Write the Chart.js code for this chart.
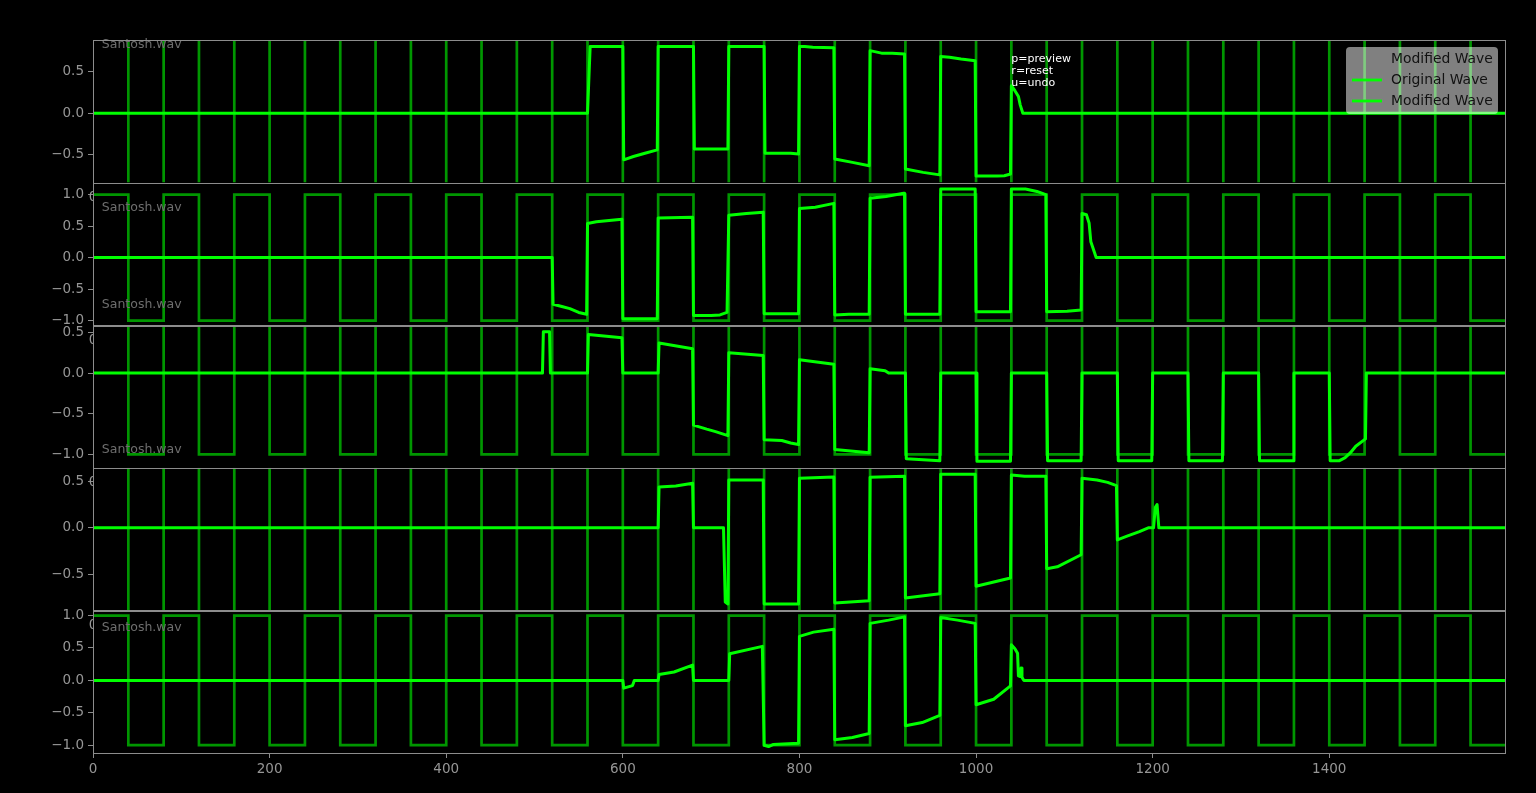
<!DOCTYPE html>
<html><head><meta charset="utf-8">
<script src="https://cdn.jsdelivr.net/npm/chart.js@4.4.1/dist/chart.umd.min.js"></script>
<style>html,body{margin:0;padding:0;background:#000;overflow:hidden}</style>
</head><body>
<canvas id="c" width="1536" height="793"></canvas>
<script>
// ---------- data ----------
const xMin = 0, xMax = 1599;
const xTickValues = [0, 200, 400, 600, 800, 1000, 1200, 1400];

// original square wave: level held from edge[i] to edge[i+1]
const squareEdges = [0,40,80,120,160,200,240,280,320,360,400,440,480,520,560,600,640,680,720,760,
  800,840,880,920,960,1000,1040,1080,1120,1160,1200,1240,1280,1320,1360,1400,1440,1480,1520,1560,1599];
const squareLevels = [1,-1,1,-1,1,-1,1,-1,1,-1,1,-1,1,-1,1,-1,1,-1,1,-1,
  1,-1,1,-1,1,-1,1,-1,1,-1,1,-1,1,-1,1,-1,1,-1,1,-1];

// modified waves, one per panel
const p1X = [0,560,563,600,601,612,625,639,640,680,681,719,720,760,761,790,799,800,806,815,839,840,860,879,880,893,905,919,920,940,959,960,970,983,999,1000,1024,1032,1039,1040,1044,1048,1050,1053,1599];
const p1Y = [0,0,0.80,0.80,-0.56,-0.52,-0.48,-0.44,0.80,0.80,-0.43,-0.43,0.80,0.80,-0.48,-0.48,-0.49,0.80,0.80,0.79,0.785,-0.55,-0.59,-0.63,0.75,0.72,0.72,0.71,-0.67,-0.71,-0.74,0.68,0.67,0.65,0.63,-0.755,-0.755,-0.75,-0.73,0.33,0.27,0.20,0.10,0,0];

const p2X = [0,520,521,532,540,550,559,560,570,599,600,639,640,679,680,700,710,718,720,740,759,760,799,800,818,839,840,856,879,880,898,918,919,920,959,960,999,1000,1039,1040,1056,1069,1079,1080,1103,1119,1120,1125,1128,1130,1136,1599];
const p2Y = [0,0,-0.74,-0.78,-0.81,-0.87,-0.90,0.54,0.57,0.61,-0.97,-0.97,0.63,0.64,-0.92,-0.92,-0.91,-0.87,0.67,0.70,0.72,-0.89,-0.89,0.78,0.80,0.86,-0.91,-0.90,-0.90,0.94,0.97,1.02,1.02,-0.90,-0.90,1.087,1.087,-0.86,-0.86,1.087,1.087,1.05,1.0,-0.86,-0.85,-0.83,0.70,0.68,0.55,0.25,0,0];

const p3X = [0,509,510,517,518,560,561,599,600,640,641,679,680,695,705,719,720,759,760,780,790,799,800,839,840,879,880,897,901,920,921,959,960,1000,1001,1039,1040,1080,1081,1119,1120,1160,1161,1199,1200,1240,1241,1279,1280,1320,1321,1359,1360,1400,1401,1411,1418,1424,1430,1441,1442,1599];
const p3Y = [0,0,0.51,0.51,0,0,0.475,0.435,0,0,0.37,0.30,-0.64,-0.69,-0.72,-0.77,0.25,0.218,-0.82,-0.83,-0.86,-0.88,0.164,0.11,-0.94,-0.98,0.053,0.03,0,0,-1.054,-1.08,0,0,-1.086,-1.086,0,0,-1.08,-1.08,0,0,-1.08,-1.08,0,0,-1.08,-1.08,0,0,-1.08,-1.08,0,0,-1.08,-1.08,-1.04,-0.98,-0.90,-0.81,0,0];

const p4X = [0,640,641,660,679,680,714,716,719,720,759,760,799,800,839,840,879,880,919,920,959,960,999,1000,1039,1040,1055,1079,1080,1092,1119,1120,1137,1149,1159,1160,1171,1185,1195,1201,1203,1205,1207,1599];
const p4Y = [0,0,0.44,0.45,0.48,0,0,-0.80,-0.82,0.516,0.516,-0.82,-0.82,0.534,0.548,-0.81,-0.785,0.545,0.555,-0.756,-0.71,0.577,0.577,-0.63,-0.54,0.57,0.555,0.555,-0.44,-0.42,-0.29,0.534,0.516,0.49,0.455,-0.13,-0.09,-0.04,0,0,0.22,0.25,0,0];

const p5X = [0,600,601,606,611,613,640,641,658,679,680,720,721,758,760,765,770,799,800,816,839,840,860,879,880,901,919,920,939,959,960,979,999,1000,1020,1039,1040,1044,1047,1048,1050,1051,1052,1054,1599];
const p5Y = [0,0,-0.12,-0.10,-0.08,0,0,0.09,0.13,0.235,0,0,0.41,0.525,-1.0,-1.02,-0.99,-0.97,0.68,0.745,0.79,-0.915,-0.88,-0.82,0.88,0.93,0.98,-0.70,-0.65,-0.54,0.97,0.93,0.88,-0.375,-0.29,-0.085,0.55,0.49,0.42,0.07,0.06,0.19,0.05,0,0];

const panelX = [p1X, p2X, p3X, p4X, p5X];
const panelY = [p1Y, p2Y, p3Y, p4Y, p5Y];
const yTickValues = [
  [-0.5, 0, 0.5],
  [-1, -0.5, 0, 0.5, 1],
  [-1, -0.5, 0, 0.5],
  [-0.5, 0, 0.5],
  [-1, -0.5, 0, 0.5, 1]
];

const legendLabels = ['Modified Wave', 'Original Wave', 'Modified Wave'];
const legendHasLine = [false, true, true];
const helpLines = ['p=preview', 'r=reset', 'u=undo'];
const fileLabel = 'Santosh.wav';
// annotation anchors (panel index, data x, data y)
const fileLabelSpots = [[0, 10, 0.826], [1, 10, 0.795], [1, 10, -0.756], [2, 10, -0.945], [4, 10, 0.817]];
const helpSpot = [0, 1040, 0.72];

// ---------- styles ----------
const LIME = '#00ff00', DARK = '#009600', GREY = '#969696', SPINE = '#8c8c8c';
const FONT = '"DejaVu Sans", sans-serif';

const fmt = v => {
  const s = Math.abs(v) < 1e-9 ? '0.0' : v.toFixed(1);
  return s.replace('-', '\u2212');
};

const squarePoints = [];
for (let i = 0; i < squareLevels.length; i++) {
  squarePoints.push({x: squareEdges[i], y: squareLevels[i]});
  squarePoints.push({x: squareEdges[i + 1], y: squareLevels[i]});
}

const datasets = [];
const scales = {
  x: {
    type: 'linear', position: 'bottom', min: xMin, max: xMax,
    afterBuildTicks: s => { s.ticks = xTickValues.map(v => ({value: v})); },
    ticks: {color: GREY, font: {family: FONT, size: 13.5}, padding: 3, autoSkip: false, maxRotation: 0,
      callback: v => String(v)},
    grid: {drawOnChartArea: false, drawTicks: true, tickLength: 5, color: SPINE, lineWidth: 1},
    border: {display: false},
    afterFit: s => { s.height = 40; }
  }
};
const nP = panelX.length;
for (let p = 0; p < nP; p++) {
  const id = 'y' + p;
  const ys = panelY[p];
  const lo = Math.min(...ys), hi = Math.max(...ys), m = (hi - lo) * 0.05;
  scales[id] = {
    type: 'linear', position: 'left', stack: 'panels', stackWeight: 1, weight: nP - p,
    min: lo - m, max: hi + m,
    afterBuildTicks: (s => { s.ticks = yTickValues[p].map(v => ({value: v})); }),
    ticks: {color: GREY, font: {family: FONT, size: 13.5}, padding: 4, autoSkip: false, callback: v => fmt(v)},
    grid: {drawOnChartArea: false, drawTicks: true, tickLength: 5, color: SPINE, lineWidth: 1},
    border: {display: false},
    afterFit: s => { s.width = 93; }
  };
  datasets.push({
    label: 'Modified Wave', yAxisID: id, xAxisID: 'x', order: 0,
    data: panelX[p].map((x, i) => ({x, y: panelY[p][i]})),
    borderColor: LIME, borderWidth: 3, pointRadius: 0, tension: 0,
    borderJoinStyle: 'round', fill: false
  });
  datasets.push({
    label: 'Original Wave', yAxisID: id, xAxisID: 'x', order: 1,
    data: squarePoints,
    borderColor: DARK, borderWidth: 2.7, pointRadius: 0, tension: 0, fill: false
  });
}

const deco = {
  id: 'deco',
  beforeDraw(chart) {
    const c = chart.ctx; c.save(); c.fillStyle = '#000'; c.fillRect(0, 0, chart.width, chart.height); c.restore();
  },
  beforeDatasetDraw(chart, args) {
    const ds = chart.data.datasets[args.index];
    const s = chart.scales[ds.yAxisID], a = chart.chartArea, c = chart.ctx;
    c.save(); c.beginPath(); c.rect(a.left, s.top, a.right - a.left, s.bottom - s.top); c.clip();
  },
  afterDatasetDraw(chart) { chart.ctx.restore(); },
  afterDraw(chart) {
    const c = chart.ctx, a = chart.chartArea, xs = chart.scales.x;
    c.save();
    // partial hidden "0" x-labels of upper panels
    c.save(); c.beginPath(); c.rect(0, 0, a.left, chart.height); c.clip();
    c.fillStyle = GREY; c.font = '13.5px ' + FONT; c.textAlign = 'center'; c.textBaseline = 'middle';
    for (let p = 0; p < nP - 1; p++) {
      const s = chart.scales['y' + p];
      c.fillText(String(xTickValues[0]), xs.getPixelForValue(xTickValues[0]), s.bottom + 15);
    }
    c.restore();
    // file labels
    c.fillStyle = '#6e6e6e'; c.font = '12.5px ' + FONT; c.textAlign = 'left'; c.textBaseline = 'middle';
    fileLabelSpots.forEach(([p, x, y]) => {
      c.fillText(fileLabel, xs.getPixelForValue(x), chart.scales['y' + p].getPixelForValue(y));
    });
    // spines
    c.strokeStyle = SPINE; c.lineWidth = 1;
    for (let p = 0; p < nP; p++) {
      const s = chart.scales['y' + p];
      c.strokeRect(Math.round(a.left) + 0.5, Math.round(s.top) + 0.5, Math.round(a.right - a.left), Math.round(s.bottom - s.top));
    }
    // help text
    c.fillStyle = '#ffffff'; c.font = '11px ' + FONT; c.textBaseline = 'top'; c.textAlign = 'left';
    const hx = xs.getPixelForValue(helpSpot[1]), hy = chart.scales['y' + helpSpot[0]].getPixelForValue(helpSpot[2]);
    helpLines.forEach((t, i) => c.fillText(t, hx, hy + i * 12));
    // legend
    const s0 = chart.scales['y0'];
    const bw = 152, bh = 67, bx = a.right - 7 - bw, by = s0.top + 7;
    c.fillStyle = 'rgba(255,255,255,0.5)';
    c.beginPath();
    if (c.roundRect) c.roundRect(bx, by, bw, bh, 4); else c.rect(bx, by, bw, bh);
    c.fill();
    c.font = '13.9px ' + FONT; c.textBaseline = 'middle';
    legendLabels.forEach((t, i) => {
      const ry = by + 12 + i * 21;
      if (legendHasLine[i]) {
        c.strokeStyle = LIME; c.lineWidth = 2.8;
        c.beginPath(); c.moveTo(bx + 6, ry); c.lineTo(bx + 36, ry); c.stroke();
      }
      c.fillStyle = '#111111';
      c.fillText(t, bx + 45, ry);
    });
    c.restore();
  }
};

new Chart(document.getElementById('c'), {
  type: 'line',
  data: {datasets},
  options: {
    responsive: false, animation: false, devicePixelRatio: 1,
    parsing: true, normalized: true,
    layout: {padding: {top: 40, right: 31, bottom: 0, left: 0}},
    plugins: {legend: {display: false}, tooltip: {enabled: false}},
    scales
  },
  plugins: [deco]
});
</script>
</body></html>
